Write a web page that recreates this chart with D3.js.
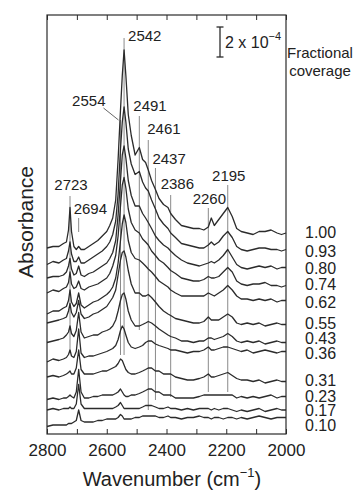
<!DOCTYPE html>
<html><head><meta charset="utf-8">
<script src="https://cdn.jsdelivr.net/npm/d3@7"></script>
<style>
html,body{margin:0;padding:0;background:#fff;}
svg{display:block;font-family:"Liberation Sans",Arial,sans-serif;}
</style></head>
<body><svg id="c" width="355" height="492"></svg>
<script>
// Wavenumber grid (cm^-1)
const wavenumbers = [2800,2780,2760,2745,2735,2728,2723,2718,2710,2702,
  2694,2686,2675,2660,2645,2630,2615,2600,2590,2580,
  2570,2562,2554,2548,2542,2536,2528,2518,2505,2491,
  2480,2470,2461,2450,2437,2425,2410,2395,2386,2370,
  2350,2330,2310,2290,2275,2260,2250,2240,2225,2210,
  2195,2180,2165,2150,2130,2110,2090,2070,2050,2030,
  2015,2000];
// Fractional coverage labels (top to bottom)
const coverages = ["1.00","0.93","0.80","0.74","0.62","0.55","0.43","0.36","0.31","0.23","0.17","0.10"];
// Stacking offsets (absorbance, 1e-5 units)
const offsets = [134,123,111,99,89,73,61,55,35,25,16,11];
// Spectra (absorbance relative to offset, 1e-5 units)
const s100 = [-10,-9,-9,-7,-6,2,17,1,-9,-11, -9,-11,-11,-9,-7,-5,-2,1,5,10, 22,49,82,105,122,105,79,65,52,57, 49,47,42,35,29,23,19,17,13,9, 5,4,3,3,2,4,10,5,9,13, 17,11,3,1,0,-1,1,1,2,0, -1,0];
const s093 = [-10,-8,-9,-7,-6,-1,5,-3,-8,-8, -5,-9,-9,-7,-5,-3,-1,2,5,10, 19,37,67,85,95,85,67,57,50,52, 45,41,39,33,27,21,17,14,11,8, 4,3,2,1,1,3,5,3,5,9, 12,8,2,0,-1,0,1,1,0,0, -1,0];
const s080 = [-7,-6,-6,-5,-3,1,6,-1,-5,-4, 1,-5,-6,-4,-3,-1,1,3,6,10, 18,35,58,75,81,73,58,48,41,41, 36,33,30,26,21,18,15,13,11,8, 5,3,2,1,2,3,4,3,5,8, 12,7,2,0,-1,0,1,0,1,-1, 0,0];
const s074 = [-5,-3,-4,-2,-1,2,9,1,-2,-1, 3,-2,-3,-1,0,1,3,5,8,13, 20,33,53,67,72,65,51,42,37,35, 31,29,27,23,20,17,15,12,10,8, 5,4,3,3,4,6,5,5,6,9, 12,9,3,1,0,1,1,2,0,0, -1,0];
const s062 = [-9,-7,-7,-5,-4,0,7,-1,-4,-2, 5,-3,-5,-3,-1,0,2,4,6,9, 15,25,40,51,57,52,40,32,28,27, 25,23,21,19,16,13,11,9,7,5, 3,3,3,3,3,5,4,3,5,7, 10,7,3,1,1,0,1,0,1,-1, 0,0];
const s055 = [1,2,3,4,5,9,14,8,5,8, 16,7,4,5,7,8,10,12,15,18, 23,33,43,48,49,45,36,27,21,21, 19,19,20,18,15,12,9,7,6,4, 3,2,1,1,2,5,3,3,3,5, 7,5,1,0,1,0,1,-1,0,1, 0,0];
const s043 = [0,1,2,3,5,7,11,6,4,8, 20,7,3,4,5,5,7,8,9,11, 15,21,28,32,33,29,21,15,11,11, 12,13,14,13,11,9,7,5,4,3, 1,1,0,1,1,3,3,2,3,4, 6,4,1,0,1,0,1,-1,0,1, 0,0];
const s036 = [-7,-5,-6,-5,-4,-2,1,-3,-4,0, 15,-1,-4,-3,-3,-2,-1,0,1,2, 4,8,14,17,15,11,6,3,2,3, 4,6,7,7,5,4,3,2,1,1, 0,-1,0,0,1,3,1,1,2,3, 3,2,1,0,1,-1,0,1,0,-1, 0,0];
const s031 = [3,4,3,4,5,6,7,5,5,9, 21,8,5,5,5,6,7,7,8,9, 10,12,15,14,11,8,6,5,5,6, 7,8,9,9,7,7,5,5,5,3, 2,1,1,2,3,5,3,3,4,5, 6,4,2,1,1,0,1,-1,0,1, 0,0];
const s023 = [-2,-1,-2,-1,-1,0,1,0,-1,3, 18,3,-1,-1,0,0,1,1,1,1, 2,3,5,3,1,0,0,1,1,2, 3,4,5,5,3,3,1,1,1,-1, -1,-1,-1,0,1,1,1,1,1,1, 1,1,-1,0,-1,0,-1,0,1,-1, 0,0];
const s017 = [0,1,0,1,1,1,2,1,1,4, 17,4,1,1,1,1,1,1,1,1, 2,3,5,3,1,1,1,1,1,1, 2,3,3,3,2,1,1,2,1,1, 0,1,0,1,1,1,0,1,0,1, 1,0,-1,0,-1,0,1,-1,0,1, 0,0];
const s010 = [-6,-5,-5,-5,-5,-4,-4,-4,-3,-2, 5,-2,-3,-3,-3,-2,-2,-1,-1,-1, -1,0,2,1,-1,-1,-1,-1,0,0, 1,1,1,1,1,0,0,1,0,0, -1,0,0,1,0,0,-1,0,0,-1, 0,0,-1,0,-1,0,1,0,-1,0, 0,0];
const spectra = [s100,s093,s080,s074,s062,s055,s043,s036,s031,s023,s017,s010];
// Peak assignments (cm^-1)
const peakLabels = [2723,2694,2554,2542,2491,2461,2437,2386,2260,2195];
const xTicks = [2800,2700,2600,2500,2400,2300,2200,2100,2000];
const xTickLabels = [2800,2600,2400,2200,2000];
const scaleBarValue = 20; // 2 x 10^-4 in 1e-5 units

// ---- layout ----
const L = {left:47, right:286, top:15, bottom:434};
const svg = d3.select("#c");
const x = d3.scaleLinear().domain([2800,2000]).range([L.left, L.right]);
const y = d3.scaleLinear().domain([0, (L.bottom-L.top)/1.5]).range([L.bottom, L.top]);
const ink = "#2b2b2b";
// vertical centres of the coverage labels (pixels)
const labelCentres = [232,251,268,284,302,323,338,353,380,396,410,425];

// annotation layout: label anchor, dx, label baseline y, line top y, line bottom y
const annLayout = {
  2723:{anchor:"middle", dx:1,  ty:190, y0:196, y1:353},
  2694:{anchor:"start",  dx:-5, ty:214, y0:218, y1:232},
  2554:{anchor:"end",    dx:-15,ty:106, y0:120, y1:355, leader:true},
  2542:{anchor:"start",  dx:4,  ty:41,  y0:38,  y1:355},
  2491:{anchor:"start",  dx:-6, ty:111, y0:116, y1:330},
  2461:{anchor:"start",  dx:-1, ty:134, y0:140, y1:410},
  2437:{anchor:"start",  dx:-3, ty:164, y0:168, y1:400},
  2386:{anchor:"start",  dx:-10,ty:189, y0:195, y1:397},
  2260:{anchor:"middle", dx:1,  ty:204, y0:208, y1:392},
  2195:{anchor:"middle", dx:1,  ty:181, y0:185, y1:392}
};

const gLines = svg.append("g");
peakLabels.forEach(w => {
  const a = annLayout[w];
  const xx = x(w);
  gLines.append("line").attr("x1",xx).attr("x2",xx).attr("y1",a.y0).attr("y2",a.y1)
    .attr("stroke","#8a8a8a").attr("stroke-width",1);
  let tx = xx + a.dx;
  if (a.leader) {
    gLines.append("line").attr("x1",xx-2).attr("y1",a.y0).attr("x2",xx-17).attr("y2",a.ty+2)
      .attr("stroke","#666").attr("stroke-width",1);
  }
  svg.append("text").attr("x",tx).attr("y",a.ty).attr("text-anchor",a.anchor)
    .attr("font-size",15).attr("fill","#222").text(w);
});

// spectra
const line = d3.line().x((d,i)=>x(wavenumbers[i])).y(d=>y(d)).curve(d3.curveLinear);
const gS = svg.append("g");
spectra.forEach((s,k) => {
  const vals = s.map(v => v + offsets[k]);
  gS.append("path").attr("d", line(vals)).attr("fill","none")
    .attr("stroke",ink).attr("stroke-width",1.3).attr("stroke-linejoin","round");
  svg.append("text").attr("x",305).attr("y",labelCentres[k]).attr("dy","0.35em").attr("font-size",16)
    .attr("fill","#222").text(coverages[k]);
});

// frame
svg.append("rect").attr("x",L.left).attr("y",L.top).attr("width",L.right-L.left)
  .attr("height",L.bottom-L.top).attr("fill","none").attr("stroke",ink).attr("stroke-width",1.2);

// axes
const axB = d3.axisBottom(x).tickValues(xTicks).tickSizeInner(-5).tickSizeOuter(0).tickPadding(10)
  .tickFormat(d => xTickLabels.includes(d) ? d : "");
const gB = svg.append("g").attr("transform",`translate(0,${L.bottom})`).call(axB);
gB.select(".domain").remove();
gB.selectAll("line").attr("stroke",ink);
gB.selectAll("text").attr("font-size",17).attr("fill","#222").attr("font-family","Liberation Sans, Arial, sans-serif");
const axT = d3.axisTop(x).tickValues(xTicks).tickSizeInner(-5).tickSizeOuter(0).tickFormat("");
const gT = svg.append("g").attr("transform",`translate(0,${L.top})`).call(axT);
gT.select(".domain").remove();
gT.selectAll("line").attr("stroke",ink);

// scale bar
const sbx = 220, sbTop = 27;
const sbBot = sbTop + (y(0) - y(scaleBarValue));
svg.append("line").attr("x1",sbx).attr("x2",sbx).attr("y1",sbTop).attr("y2",sbBot).attr("stroke",ink).attr("stroke-width",1.3);
[sbTop,sbBot].forEach(v=>svg.append("line").attr("x1",sbx-3.5).attr("x2",sbx+3.5).attr("y1",v).attr("y2",v).attr("stroke",ink).attr("stroke-width",1.3));
const sbt = svg.append("text").attr("x",225).attr("y",48).attr("font-size",16).attr("fill","#222");
sbt.append("tspan").text("2 x 10");
sbt.append("tspan").attr("dy",-8).attr("font-size",11).text("\u22124");

// fractional coverage
svg.append("text").attr("x",320).attr("y",58).attr("text-anchor","middle").attr("font-size",15).attr("fill","#222").text("Fractional");
svg.append("text").attr("x",320).attr("y",76).attr("text-anchor","middle").attr("font-size",15).attr("fill","#222").text("coverage");

// axis titles
svg.append("text").attr("transform","translate(33,222) rotate(-90)").attr("text-anchor","middle")
  .attr("font-size",21).attr("fill","#222").text("Absorbance");
const xt = svg.append("text").attr("x",172).attr("y",486).attr("text-anchor","middle").attr("font-size",20).attr("fill","#222");
xt.append("tspan").text("Wavenumber (cm");
xt.append("tspan").attr("dy",-9).attr("font-size",13).text("\u22121");
xt.append("tspan").attr("dy",9).text(")");
</script></body></html>
